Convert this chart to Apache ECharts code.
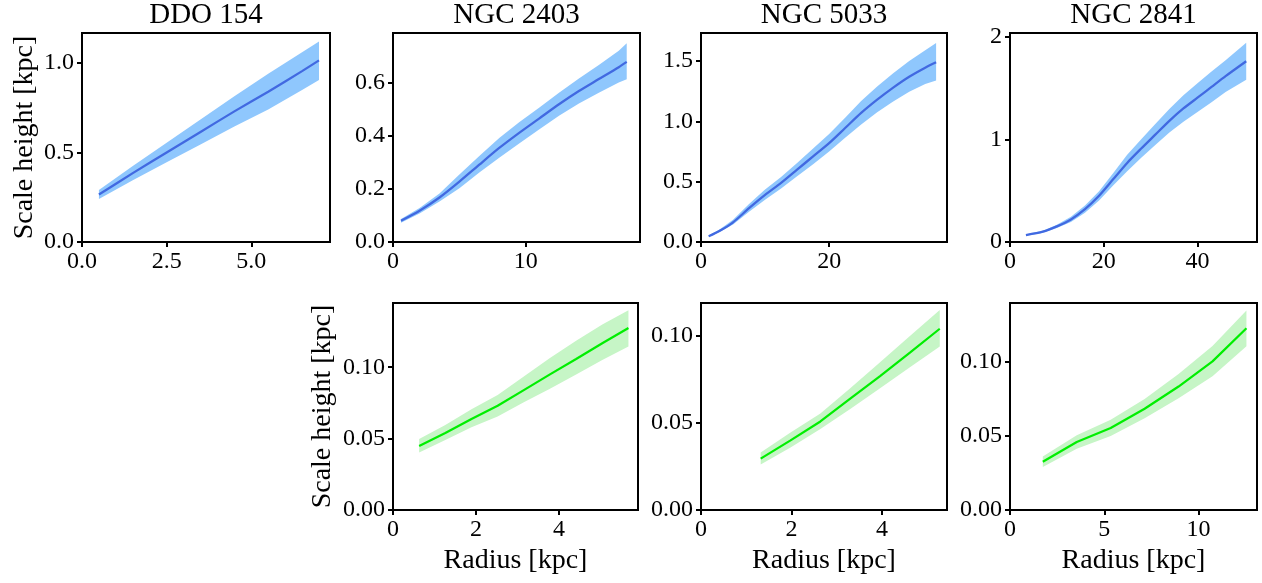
<!DOCTYPE html>
<html><head><meta charset="utf-8">
<script src="https://cdn.jsdelivr.net/npm/echarts@6/dist/echarts.min.js"></script>
<style>html,body{margin:0;padding:0;background:#fff}#c{width:1262px;height:583px}</style>
</head><body><div id="c"></div>
<script>
// ---------- DATA ----------
// Stellar disc scale heights (top row)
const DDO154_R  = [0.5, 1.5, 2.5, 3.5, 4.5, 5.5, 6.5, 7.0];
const DDO154_H  = [0.265, 0.385, 0.500, 0.615, 0.730, 0.840, 0.955, 1.015];
const DDO154_LO = [0.240, 0.345, 0.445, 0.545, 0.645, 0.740, 0.850, 0.905];
const DDO154_HI = [0.290, 0.425, 0.555, 0.685, 0.815, 0.940, 1.060, 1.120];

const N2403_R  = [0.6, 2, 3.5, 5, 6.5, 8, 9.5, 11, 12.5, 14, 15.5, 17, 17.6];
const N2403_H  = [0.080, 0.118, 0.168, 0.228, 0.292, 0.355, 0.412, 0.466, 0.520, 0.570, 0.615, 0.660, 0.680];
const N2403_LO = [0.073, 0.108, 0.153, 0.203, 0.262, 0.318, 0.372, 0.425, 0.477, 0.523, 0.563, 0.602, 0.614];
const N2403_HI = [0.087, 0.128, 0.183, 0.255, 0.325, 0.393, 0.452, 0.507, 0.563, 0.617, 0.668, 0.722, 0.750];

const N5033_R  = [1.2, 3, 5, 7.5, 10, 12.5, 15, 17.5, 20, 22.5, 25, 27.5, 30, 32.5, 35, 36.7];
const N5033_H  = [0.047, 0.095, 0.163, 0.280, 0.390, 0.490, 0.600, 0.710, 0.820, 0.945, 1.070, 1.180, 1.280, 1.370, 1.445, 1.490];
const N5033_LO = [0.043, 0.085, 0.145, 0.250, 0.350, 0.443, 0.545, 0.645, 0.750, 0.865, 0.975, 1.075, 1.165, 1.245, 1.310, 1.340];
const N5033_HI = [0.052, 0.107, 0.185, 0.315, 0.435, 0.540, 0.655, 0.775, 0.895, 1.030, 1.170, 1.290, 1.400, 1.500, 1.590, 1.650];

const N2841_R  = [3.4, 7, 10, 13, 16, 19, 22, 25, 28, 31, 34, 37, 40, 43, 46, 50.4];
const N2841_H  = [0.068, 0.100, 0.152, 0.220, 0.320, 0.450, 0.610, 0.770, 0.910, 1.045, 1.180, 1.300, 1.405, 1.510, 1.615, 1.760];
const N2841_LO = [0.061, 0.090, 0.137, 0.195, 0.285, 0.405, 0.550, 0.690, 0.820, 0.945, 1.065, 1.170, 1.265, 1.360, 1.460, 1.580];
const N2841_HI = [0.076, 0.110, 0.168, 0.245, 0.355, 0.495, 0.670, 0.850, 1.000, 1.150, 1.295, 1.430, 1.545, 1.660, 1.770, 1.940];

// Gas disc scale heights (bottom row)
const G2403_R  = [0.63, 1.26, 1.89, 2.52, 3.15, 3.78, 4.41, 5.04, 5.67];
const G2403_H  = [0.0449, 0.0540, 0.0638, 0.0730, 0.0840, 0.0950, 0.1058, 0.1168, 0.1275];
const G2403_LO = [0.0402, 0.0490, 0.0580, 0.0655, 0.0755, 0.0850, 0.0950, 0.1050, 0.1145];
const G2403_HI = [0.0497, 0.0595, 0.0705, 0.0805, 0.0935, 0.1065, 0.1185, 0.1300, 0.1400];

const G5033_R  = [1.32, 1.98, 2.64, 3.30, 3.96, 4.62, 5.28];
const G5033_H  = [0.0295, 0.0400, 0.0509, 0.0640, 0.0770, 0.0905, 0.1042];
const G5033_LO = [0.0262, 0.0360, 0.0465, 0.0580, 0.0700, 0.0820, 0.0940];
const G5033_HI = [0.0330, 0.0445, 0.0555, 0.0700, 0.0850, 0.1000, 0.1150];

const G2841_R  = [1.74, 3.54, 5.34, 7.14, 8.94, 10.74, 12.54];
const G2841_H  = [0.0326, 0.0460, 0.0555, 0.0685, 0.0835, 0.1005, 0.1229];
const G2841_LO = [0.0290, 0.0415, 0.0500, 0.0620, 0.0755, 0.0905, 0.1108];
const G2841_HI = [0.0362, 0.0505, 0.0610, 0.0750, 0.0920, 0.1110, 0.1350];

// Tick values and labels
const X_TICKS_DDO154 = [0, 2.5, 5];      const X_LABELS_DDO154 = ['0.0', '2.5', '5.0'];
const Y_TICKS_DDO154 = [0, 0.5, 1];      const Y_LABELS_DDO154 = ['0.0', '0.5', '1.0'];
const X_TICKS_N2403 = [0, 10];           const X_LABELS_N2403 = ['0', '10'];
const Y_TICKS_N2403 = [0, 0.2, 0.4, 0.6];const Y_LABELS_N2403 = ['0.0', '0.2', '0.4', '0.6'];
const X_TICKS_N5033 = [0, 20];           const X_LABELS_N5033 = ['0', '20'];
const Y_TICKS_N5033 = [0, 0.5, 1, 1.5];  const Y_LABELS_N5033 = ['0.0', '0.5', '1.0', '1.5'];
const X_TICKS_N2841 = [0, 20, 40];       const X_LABELS_N2841 = ['0', '20', '40'];
const Y_TICKS_N2841 = [0, 1, 2];         const Y_LABELS_N2841 = ['0', '1', '2'];
const X_TICKS_G2403 = [0, 2, 4];         const X_LABELS_G2403 = ['0', '2', '4'];
const X_TICKS_G5033 = [0, 2, 4];         const X_LABELS_G5033 = ['0', '2', '4'];
const X_TICKS_G2841 = [0, 5, 10];        const X_LABELS_G2841 = ['0', '5', '10'];
const Y_TICKS_GAS = [0, 0.05, 0.1];      const Y_LABELS_GAS = ['0.00', '0.05', '0.10'];

const TITLES = ['DDO 154', 'NGC 2403', 'NGC 5033', 'NGC 2841'];
const X_NAME = 'Radius [kpc]';
const Y_NAME = 'Scale height [kpc]';

// ---------- LAYOUT / STYLE ----------
const FONT = "'Liberation Serif', 'DejaVu Serif', serif";
const LAYOUT = [
  {left: 82,   top: 33,  width: 248, height: 209},
  {left: 393,  top: 33,  width: 247, height: 209},
  {left: 701,  top: 33,  width: 246, height: 209},
  {left: 1010, top: 33,  width: 247, height: 209},
  {left: 393,  top: 303, width: 245, height: 207},
  {left: 701,  top: 303, width: 246, height: 207},
  {left: 1010, top: 303, width: 247, height: 207}
];
const STAR = {line: '#4169e1', band: '#8fc7fd', width: 2.3, smooth: 0.25};
const GAS  = {line: '#00ee00', band: '#c6f5c6', width: 2.2, smooth: false};

const PANELS = [
  {r: DDO154_R, h: DDO154_H, lo: DDO154_LO, hi: DDO154_HI, xMax: 7.325, yMax: 1.168, xt: X_TICKS_DDO154, xl: X_LABELS_DDO154, yt: Y_TICKS_DDO154, yl: Y_LABELS_DDO154, sty: STAR, yName: 43},
  {r: N2403_R, h: N2403_H, lo: N2403_LO, hi: N2403_HI, xMax: 18.6, yMax: 0.789, xt: X_TICKS_N2403, xl: X_LABELS_N2403, yt: Y_TICKS_N2403, yl: Y_LABELS_N2403, sty: STAR},
  {r: N5033_R, h: N5033_H, lo: N5033_LO, hi: N5033_HI, xMax: 38.4, yMax: 1.733, xt: X_TICKS_N5033, xl: X_LABELS_N5033, yt: Y_TICKS_N5033, yl: Y_LABELS_N5033, sty: STAR},
  {r: N2841_R, h: N2841_H, lo: N2841_LO, hi: N2841_HI, xMax: 52.7, yMax: 2.035, xt: X_TICKS_N2841, xl: X_LABELS_N2841, yt: Y_TICKS_N2841, yl: Y_LABELS_N2841, sty: STAR},
  {r: G2403_R, h: G2403_H, lo: G2403_LO, hi: G2403_HI, xMax: 5.9, yMax: 0.145, xt: X_TICKS_G2403, xl: X_LABELS_G2403, yt: Y_TICKS_GAS, yl: Y_LABELS_GAS, sty: GAS, yName: 56, xName: true},
  {r: G5033_R, h: G5033_H, lo: G5033_LO, hi: G5033_HI, xMax: 5.44, yMax: 0.119, xt: X_TICKS_G5033, xl: X_LABELS_G5033, yt: Y_TICKS_GAS, yl: Y_LABELS_GAS, sty: GAS, xName: true},
  {r: G2841_R, h: G2841_H, lo: G2841_LO, hi: G2841_HI, xMax: 13.1, yMax: 0.140, xt: X_TICKS_G2841, xl: X_LABELS_G2841, yt: Y_TICKS_GAS, yl: Y_LABELS_GAS, sty: GAS, xName: true}
];

function labelFor(ticks, labels) {
  return function (v) {
    for (let i = 0; i < ticks.length; i++) if (Math.abs(ticks[i] - v) < 1e-9) return labels[i];
    return '';
  };
}

function bandRenderer(p) {
  return function (params, api) {
    if (params.dataIndex !== 0) return null;
    const pts = [];
    for (let k = 0; k < p.r.length; k++) pts.push(api.coord([p.r[k], p.hi[k]]));
    for (let k = p.r.length - 1; k >= 0; k--) pts.push(api.coord([p.r[k], p.lo[k]]));
    return {type: 'polygon', shape: {points: pts}, style: {fill: p.sty.band, stroke: null}, silent: true};
  };
}

const grid = [], xAxis = [], yAxis = [], series = [], title = [];
PANELS.forEach(function (p, i) {
  const L = LAYOUT[i];
  grid.push({left: L.left, top: L.top, width: L.width, height: L.height, show: true,
    borderColor: '#000', borderWidth: 2, backgroundColor: '#fff', containLabel: false});
  const axisCommon = {
    z: 10,
    axisLine: {show: true, onZero: false, lineStyle: {color: '#000', width: 2}},
    axisTick: {show: true, inside: false, length: 5, lineStyle: {color: '#000', width: 2}},
    splitLine: {show: false},
    nameTextStyle: {fontFamily: FONT, fontSize: 28, color: '#000'}
  };
  xAxis.push(Object.assign({}, axisCommon, {
    type: 'value', gridIndex: i, min: 0, max: p.xMax,
    axisTick: Object.assign({}, axisCommon.axisTick, {customValues: p.xt}),
    axisLabel: {customValues: p.xt, formatter: labelFor(p.xt, p.xl), fontFamily: FONT, fontSize: 24, color: '#000', margin: 8},
    name: p.xName ? X_NAME : '', nameLocation: 'middle', nameGap: 37
  }));
  yAxis.push(Object.assign({}, axisCommon, {
    type: 'value', gridIndex: i, min: 0, max: p.yMax,
    axisTick: Object.assign({}, axisCommon.axisTick, {customValues: p.yt}),
    axisLabel: {customValues: p.yt, formatter: labelFor(p.yt, p.yl), fontFamily: FONT, fontSize: 24, color: '#000', margin: 8},
    name: p.yName ? Y_NAME : '', nameLocation: 'middle', nameGap: p.yName || 40
  }));
  // uncertainty band (single polygon between lower and upper edges)
  series.push({
    type: 'custom', xAxisIndex: i, yAxisIndex: i, silent: true, z: 1,
    data: p.r.map(function (x, k) { return [x, p.lo[k], p.hi[k]]; }),
    encode: {x: 0, y: [1, 2]},
    renderItem: bandRenderer(p)
  });
  // best-fit scale height
  series.push({
    type: 'line', xAxisIndex: i, yAxisIndex: i, silent: true,
    data: p.r.map(function (x, k) { return [x, p.h[k]]; }),
    showSymbol: false, symbol: 'none', smooth: p.sty.smooth,
    lineStyle: {color: p.sty.line, width: p.sty.width}, z: 3
  });
  if (i < 4) {
    title.push({text: TITLES[i], left: L.left + L.width / 2, top: 1, textAlign: 'center', padding: 0,
      textStyle: {fontFamily: FONT, fontSize: 29, fontWeight: 'normal', color: '#000'}});
  }
});

const chart = echarts.init(document.getElementById('c'), null, {renderer: 'canvas'});
chart.setOption({animation: false, backgroundColor: '#fff', title: title, grid: grid, xAxis: xAxis, yAxis: yAxis, series: series});
</script></body></html>
